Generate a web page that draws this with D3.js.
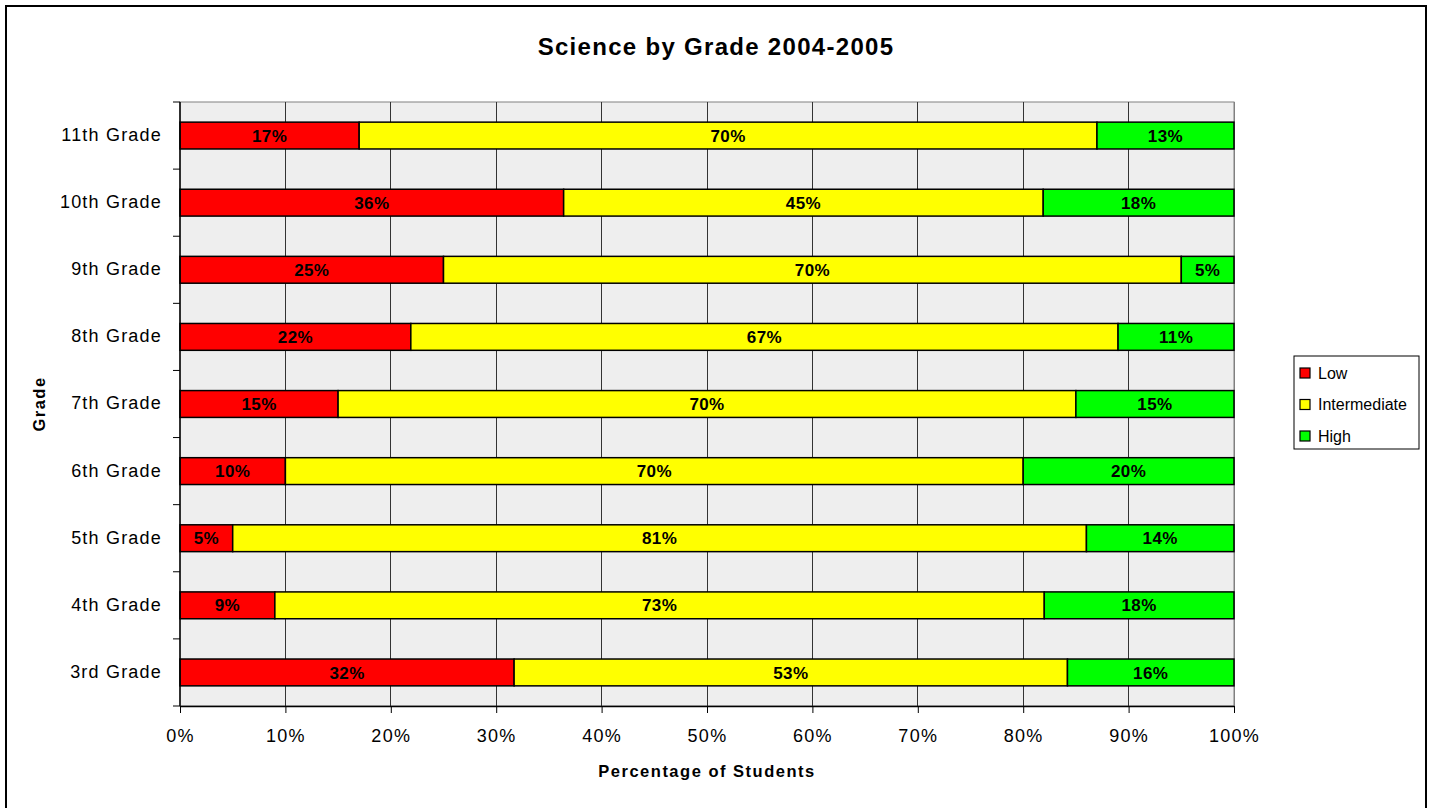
<!DOCTYPE html>
<html>
<head>
<meta charset="utf-8">
<script src="https://cdn.jsdelivr.net/npm/d3@7"></script>
<style>
  body { margin: 0; background: #fff; }
  text { font-family: "Liberation Sans", Arial, sans-serif; }
</style>
</head>
<body>
<div class="chart"></div>
<script>
// data, top to bottom
var grades = ["11th Grade", "10th Grade", "9th Grade", "8th Grade", "7th Grade",
  "6th Grade", "5th Grade", "4th Grade", "3rd Grade"];
var low = [17, 36.4, 25, 21.9, 15, 10, 5, 9, 31.7];
var intermediate = [70, 45.5, 70, 67.1, 70, 70, 81, 73, 52.5];
var high = [13, 18.1, 5, 11, 15, 20, 14, 18, 15.8];
var lowLabels = ["17%", "36%", "25%", "22%", "15%", "10%", "5%", "9%", "32%"];
var midLabels = ["70%", "45%", "70%", "67%", "70%", "70%", "81%", "73%", "53%"];
var highLabels = ["13%", "18%", "5%", "11%", "15%", "20%", "14%", "18%", "16%"];
var seriesNames = ["Low", "Intermediate", "High"];
var seriesColors = ["#ff0000", "#ffff00", "#00ff00"];
var xTicks = [0, 10, 20, 30, 40, 50, 60, 70, 80, 90, 100];

var width = 1432, height = 808;
var plot = { left: 180, top: 102, right: 1234, bottom: 706 };

var svg = d3.select(".chart").append("svg")
  .attr("width", width).attr("height", height);

// outer frame
svg.append("rect")
  .attr("x", 6).attr("y", 6)
  .attr("width", 1420).attr("height", 820)
  .attr("fill", "#fff").attr("stroke", "#000").attr("stroke-width", 2);

var x = d3.scaleLinear().domain([0, 100]).range([plot.left, plot.right]);
var y = d3.scaleBand().domain(grades).range([plot.top, plot.bottom]).paddingInner(0.6).paddingOuter(0.3);
var yb = d3.scaleBand().domain(grades).range([plot.top, plot.bottom]);

// plot background
svg.append("rect")
  .attr("x", plot.left).attr("y", plot.top)
  .attr("width", plot.right - plot.left).attr("height", plot.bottom - plot.top)
  .attr("fill", "#eeeeee").attr("stroke", "#808080");

// grid
svg.append("g").selectAll("line").data(xTicks.slice(1)).enter().append("line")
  .attr("x1", d => x(d)).attr("x2", d => x(d))
  .attr("y1", plot.top).attr("y2", plot.bottom)
  .attr("stroke", d => d === 100 ? "#808080" : "#333").attr("stroke-width", 1)
  .attr("shape-rendering", "crispEdges");

// stacked bars
var rows = grades.map((g, i) => ({ grade: g, Low: low[i], Intermediate: intermediate[i], High: high[i],
  labels: [lowLabels[i], midLabels[i], highLabels[i]] }));
var stack = d3.stack().keys(seriesNames)(rows);

var layers = svg.append("g").selectAll("g").data(stack).enter().append("g")
  .attr("fill", (d, i) => seriesColors[i]);

layers.selectAll("rect").data(d => d).enter().append("rect")
  .attr("x", d => x(d[0]))
  .attr("y", d => y(d.data.grade))
  .attr("width", d => x(d[1]) - x(d[0]))
  .attr("height", y.bandwidth())
  .attr("stroke", "#000").attr("stroke-width", 1.5);

stack.forEach((layer, k) => {
  svg.append("g").selectAll("text").data(layer).enter().append("text")
    .attr("x", d => (x(d[0]) + x(d[1])) / 2)
    .attr("y", d => y(d.data.grade) + y.bandwidth() / 2)
    .attr("dy", "0.36em")
    .attr("text-anchor", "middle")
    .attr("font-size", 17).attr("font-weight", "bold")
    .attr("letter-spacing", 0.4)
    .text(d => d.data.labels[k]);
});

// axes
var xAxis = svg.append("g")
  .attr("transform", `translate(0,${plot.bottom})`)
  .call(d3.axisBottom(x).tickValues(xTicks).tickFormat(d => d + "%").tickSize(7).tickSizeOuter(0));
xAxis.select(".domain").attr("stroke", "#000").attr("stroke-width", 1.5);
xAxis.selectAll(".tick line").attr("stroke", "#000");
xAxis.selectAll("text").attr("font-size", 18).attr("fill", "#000").attr("dy", "1.45em")
  .attr("letter-spacing", 1.3)
  .attr("font-family", "Liberation Sans, Arial, sans-serif");

var yAxis = svg.append("g").attr("transform", `translate(${plot.left},0)`);
yAxis.append("line")
  .attr("x1", 0).attr("x2", 0).attr("y1", plot.top).attr("y2", plot.bottom)
  .attr("stroke", "#000").attr("stroke-width", 1.5);
var boundaries = grades.map(g => yb(g)).concat([plot.bottom]);
yAxis.selectAll(".tk").data(boundaries).enter().append("line")
  .attr("x1", -7).attr("x2", 0).attr("y1", d => d).attr("y2", d => d)
  .attr("stroke", "#000");
yAxis.selectAll("text").data(grades).enter().append("text")
  .attr("x", -18)
  .attr("y", d => yb(d) + yb.bandwidth() / 2)
  .attr("dy", "0.3em")
  .attr("text-anchor", "end")
  .attr("font-size", 18)
  .attr("letter-spacing", 1.2)
  .text(d => d);

// titles
svg.append("text")
  .attr("x", 716).attr("y", 55)
  .attr("text-anchor", "middle")
  .attr("font-size", 24).attr("font-weight", "bold")
  .attr("letter-spacing", 1.3)
  .text("Science by Grade 2004-2005");

svg.append("text")
  .attr("x", (plot.left + plot.right) / 2).attr("y", 777)
  .attr("text-anchor", "middle")
  .attr("font-size", 16.5).attr("font-weight", "bold")
  .attr("letter-spacing", 1.5)
  .text("Percentage of Students");

svg.append("text")
  .attr("transform", `translate(45,${(plot.top + plot.bottom) / 2}) rotate(-90)`)
  .attr("text-anchor", "middle")
  .attr("font-size", 16.5).attr("font-weight", "bold")
  .attr("letter-spacing", 1.5)
  .text("Grade");

// legend
var legend = svg.append("g").attr("transform", "translate(1294,356)");
legend.append("rect")
  .attr("width", 125).attr("height", 93)
  .attr("fill", "#fff").attr("stroke", "#000");
var items = legend.selectAll(".item").data(seriesNames).enter().append("g")
  .attr("transform", (d, i) => `translate(0,${17 + i * 31.5})`);
items.append("rect")
  .attr("x", 6).attr("y", -5).attr("width", 10).attr("height", 10)
  .attr("fill", (d, i) => seriesColors[i]).attr("stroke", "#000").attr("stroke-width", 1.2);
items.append("text")
  .attr("x", 24).attr("dy", "0.36em")
  .attr("font-size", 16)
  .text(d => d);
</script>
</body>
</html>
